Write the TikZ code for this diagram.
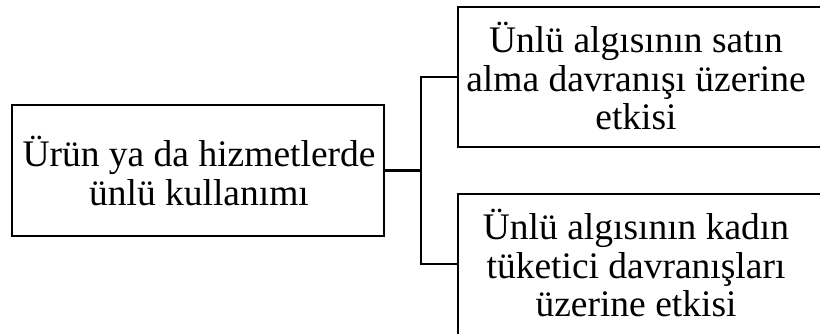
\documentclass[tikz,border=0pt]{standalone}
\usepackage{fontspec}
\setmainfont{Liberation Serif}
\begin{document}
\begin{tikzpicture}[x=1pt,y=-1pt,
  boxshape/.style={draw, line width=2.7pt, inner sep=0pt, outer sep=0pt, rectangle},
  boxtext/.style={align=center, inner sep=0pt, font=\fontsize{37.5}{38.5}\selectfont},
  conn/.style={line width=2.7pt}]
\useasboundingbox (0,0) rectangle (820,333);
\clip (0,0) rectangle (820,333);
\node[boxshape, minimum width=372pt, minimum height=131pt] (L) at (198,170.5) {};
\node[boxshape, anchor=north west, minimum width=400pt, minimum height=140pt] (T) at (458,7) {};
\node[boxshape, anchor=north west, minimum width=400pt, minimum height=160pt] (B) at (458,194) {};
\node[boxtext] (Lt) at (199,171) {Ürün ya da hizmetlerde\\ünlü kullanımı};
\node[boxtext] (Tt) at (636,76) {Ünlü algısının satın\\alma davranışı üzerine\\etkisi};
\node[boxtext] (Bt) at (636,263) {Ünlü algısının kadın\\tüketici davranışları\\üzerine etkisi};
\coordinate (jtop) at (421,77);
\coordinate (jbot) at (421,264);
\draw[conn] (L.east) -- (L.east -| jtop);
\draw[conn] (T.west |- jtop) -- (jtop) -- (jbot) -- (B.west |- jbot);
\end{tikzpicture}
\end{document}
